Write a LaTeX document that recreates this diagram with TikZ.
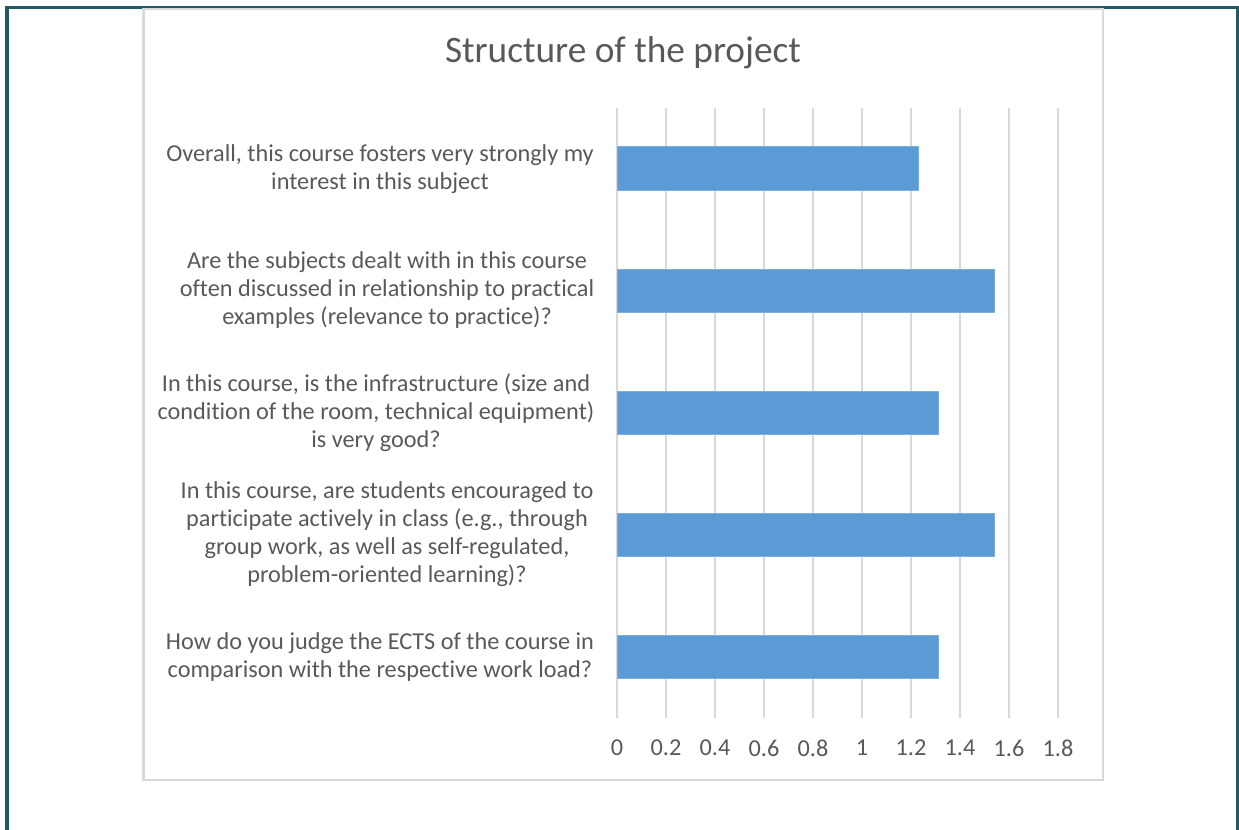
\documentclass[tikz,border=0pt]{standalone}
\usepackage{fontspec}
\setmainfont{Carlito}[Ligatures=NoCommon]
\usetikzlibrary{positioning}
\definecolor{frameteal}{HTML}{1F5A66}
\definecolor{chartgray}{HTML}{D9D9D9}
\definecolor{barblue}{HTML}{5B9BD5}
\definecolor{textgray}{HTML}{595959}

\begin{document}
\begin{tikzpicture}[x=0.75pt,y=-0.75pt,
    catlabel/.style={text=textgray,align=center,inner sep=0pt,font=\fontsize{18.2}{21}\selectfont},
    ticklabel/.style={text=textgray,inner sep=0pt,font=\fontsize{18.2}{21}\selectfont},
    gridline/.style={draw=chartgray,line width=1.1pt},
    barbox/.style={fill=barblue,draw=barblue!80!white,line width=0.5pt}]
\useasboundingbox (0,0) rectangle (1239,830);
% frame and chart area
\draw[frameteal,line width=2.4pt] (7,830) -- (7,7.5) -- (1237.5,7.5) -- (1237.5,830);
\draw[chartgray,line width=1.6pt] (143.5,9) rectangle (1103,780);
\node[text=textgray,inner sep=0pt,font=\fontsize{28}{32}\selectfont] (title) at (623,53) {Structure of the project};
% grid and axis labels
\foreach \t [count=\i from 0] in {0,0.2,0.4,0.6,0.8,1,1.2,1.4,1.6,1.8} {
  \coordinate (gtop\i) at (617+\i*49,108);
  \coordinate (gbot\i) at (617+\i*49,718);
  \draw[gridline] (gtop\i) -- (gbot\i);
  \node[ticklabel] (tick\i) at (617+\i*49,748) {\t};
}
% bars
\foreach \v [count=\k from 0] in {1.23,1.54,1.31,1.54,1.31} {
  \draw[barbox] (617,168.3+\k*122.2-21.6) rectangle (617+\v*245,168.3+\k*122.2+21.6);
}
% category labels
\node[catlabel] (q1) at (380,169) {Overall, this course fosters very strongly my\\interest in this subject};
\node[catlabel] (q2) at (387,290.5) {Are the subjects dealt with in this course\\often discussed in relationship to practical\\examples (relevance to practice)?};
\node[catlabel] (q3) at (376,412.5) {In this course, is the infrastructure (size and\\condition of the room, technical equipment)\\is very good?};
\node[catlabel] (q4) at (387,534.5) {In this course, are students encouraged to\\participate actively in class (e.g., through\\group work, as well as self-regulated,\\problem-oriented learning)?};
\node[catlabel] (q5) at (380,657) {How do you judge the ECTS of the course in\\comparison with the respective work load?};
\end{tikzpicture}
\end{document}
